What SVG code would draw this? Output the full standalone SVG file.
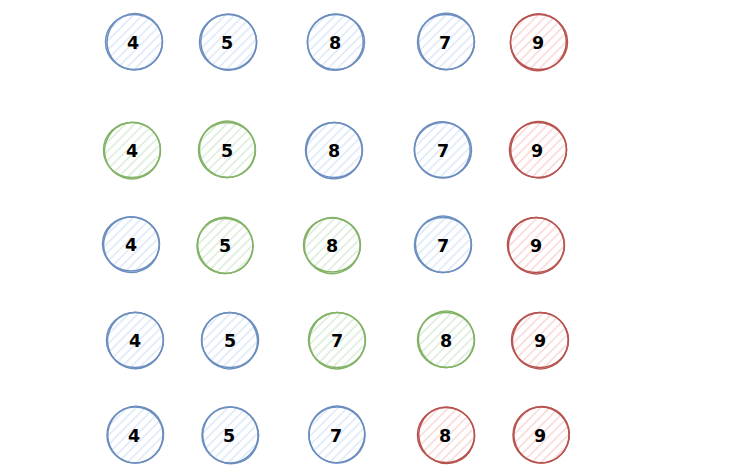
<svg xmlns="http://www.w3.org/2000/svg" width="748" height="476" viewBox="0 0 748 476">
<defs>
<pattern id="hb" patternUnits="userSpaceOnUse" width="6.5" height="6.5" patternTransform="rotate(45)"><line x1="1" y1="0" x2="1" y2="6.5" stroke="#d3e2f7" stroke-width="1.2"/></pattern>
<pattern id="hg" patternUnits="userSpaceOnUse" width="6.5" height="6.5" patternTransform="rotate(45)"><line x1="1" y1="0" x2="1" y2="6.5" stroke="#d0e6cf" stroke-width="1.2"/></pattern>
<pattern id="hr" patternUnits="userSpaceOnUse" width="6.5" height="6.5" patternTransform="rotate(45)"><line x1="1" y1="0" x2="1" y2="6.5" stroke="#f6cdca" stroke-width="1.2"/></pattern>
</defs>
<style>
.b .f{fill:url(#hb)} .g .f{fill:url(#hg)} .r .f{fill:url(#hr)}
.b .s{stroke:#6c8ebf} .g .s{stroke:#82b366} .r .s{stroke:#b85450}
.s{fill:none;stroke-width:1.5}
.t{font-family:"DejaVu Sans",Verdana,sans-serif;font-weight:bold;font-size:17.5px;fill:#000;text-anchor:middle;dominant-baseline:central}
</style>
<g id="connectors"></g>
<g id="r1n1" class="b"><circle class="f" cx="134" cy="42" r="27"/><ellipse class="s" cx="134" cy="42" rx="28.5" ry="27.5"/><ellipse class="s" cx="134.6" cy="41.6" rx="27.6" ry="28.2" transform="rotate(20 134 42)"/><text class="t" x="133" y="43">4</text></g>
<g id="r1n2" class="b"><circle class="f" cx="228" cy="42" r="27"/><ellipse class="s" cx="228" cy="42" rx="28.5" ry="27.5"/><ellipse class="s" cx="228.6" cy="42.4" rx="27.8" ry="28.2" transform="rotate(-25 228 42)"/><text class="t" x="227" y="43">5</text></g>
<g id="r1n3" class="b"><circle class="f" cx="336" cy="42" r="27"/><ellipse class="s" cx="336" cy="42" rx="28.5" ry="27.5"/><ellipse class="s" cx="335.5" cy="42.5" rx="27.8" ry="28.2" transform="rotate(30 336 42)"/><text class="t" x="335" y="43">8</text></g>
<g id="r1n4" class="b"><circle class="f" cx="446" cy="42" r="27"/><ellipse class="s" cx="446" cy="42" rx="28.5" ry="27.5"/><ellipse class="s" cx="446.5" cy="41.5" rx="27.8" ry="28.2" transform="rotate(-15 446 42)"/><text class="t" x="445" y="43">7</text></g>
<g id="r1n5" class="r"><circle class="f" cx="539" cy="42" r="27"/><ellipse class="s" cx="539" cy="42" rx="28.5" ry="27.5"/><ellipse class="s" cx="538.5" cy="42.5" rx="27.8" ry="28.4" transform="rotate(25 539 42)"/><text class="t" x="538" y="43">9</text></g>

<g id="r2n1" class="g"><circle class="f" cx="132" cy="150" r="27"/><ellipse class="s" cx="132" cy="150" rx="28.5" ry="27.5"/><ellipse class="s" cx="132.6" cy="150.4" rx="27.8" ry="28.4" transform="rotate(20 132 150)"/><text class="t" x="132" y="151">4</text></g>
<g id="r2n2" class="g"><circle class="f" cx="227" cy="150" r="27"/><ellipse class="s" cx="227" cy="150" rx="28.5" ry="27.5"/><ellipse class="s" cx="227.5" cy="149.5" rx="27.8" ry="28.2" transform="rotate(-20 227 150)"/><text class="t" x="227" y="151">5</text></g>
<g id="r2n3" class="b"><circle class="f" cx="334" cy="150" r="27"/><ellipse class="s" cx="334" cy="150" rx="28.5" ry="27.5"/><ellipse class="s" cx="334.5" cy="150.5" rx="27.8" ry="28.2" transform="rotate(30 334 150)"/><text class="t" x="334" y="151">8</text></g>
<g id="r2n4" class="b"><circle class="f" cx="443" cy="150" r="27"/><ellipse class="s" cx="443" cy="150" rx="28.5" ry="27.5"/><ellipse class="s" cx="442.4" cy="149.5" rx="27.8" ry="28.2" transform="rotate(-30 443 150)"/><text class="t" x="443" y="151">7</text></g>
<g id="r2n5" class="r"><circle class="f" cx="538" cy="150" r="27"/><ellipse class="s" cx="538" cy="150" rx="28.5" ry="27.5"/><ellipse class="s" cx="538.5" cy="149.5" rx="27.8" ry="28.2" transform="rotate(15 538 150)"/><text class="t" x="537" y="151">9</text></g>

<g id="r3n1" class="b"><circle class="f" cx="131" cy="244" r="27"/><ellipse class="s" cx="131" cy="244" rx="28.5" ry="27"/><ellipse class="s" cx="131.6" cy="244.5" rx="27.8" ry="27.8" transform="rotate(20 131 244)"/><text class="t" x="131" y="245">4</text></g>
<g id="r3n2" class="g"><circle class="f" cx="225" cy="246" r="27"/><ellipse class="s" cx="225" cy="246" rx="28" ry="27.5"/><ellipse class="s" cx="225.5" cy="245.5" rx="27.5" ry="28.2" transform="rotate(-20 225 246)"/><text class="t" x="225" y="246">5</text></g>
<g id="r3n3" class="g"><circle class="f" cx="332" cy="245" r="27"/><ellipse class="s" cx="332" cy="245" rx="28.5" ry="27"/><ellipse class="s" cx="332.5" cy="245.5" rx="27.8" ry="28" transform="rotate(25 332 245)"/><text class="t" x="332" y="246">8</text></g>
<g id="r3n4" class="b"><circle class="f" cx="443" cy="245" r="27"/><ellipse class="s" cx="443" cy="245" rx="28.5" ry="27.5"/><ellipse class="s" cx="443.5" cy="244.5" rx="27.8" ry="28.2" transform="rotate(-20 443 245)"/><text class="t" x="443" y="246">7</text></g>
<g id="r3n5" class="r"><circle class="f" cx="536" cy="245" r="27"/><ellipse class="s" cx="536" cy="245" rx="28.5" ry="27.5"/><ellipse class="s" cx="536.5" cy="245.5" rx="27.8" ry="28.2" transform="rotate(20 536 245)"/><text class="t" x="536" y="246">9</text></g>

<g id="r4n1" class="b"><circle class="f" cx="135" cy="340" r="27"/><ellipse class="s" cx="135" cy="340" rx="28.5" ry="27.5"/><ellipse class="s" cx="135.6" cy="340.4" rx="27.8" ry="28.2" transform="rotate(20 135 340)"/><text class="t" x="135" y="341">4</text></g>
<g id="r4n2" class="b"><circle class="f" cx="230" cy="340" r="27"/><ellipse class="s" cx="230" cy="340" rx="28.5" ry="27.5"/><ellipse class="s" cx="229.5" cy="340.5" rx="27.8" ry="28.2" transform="rotate(-20 230 340)"/><text class="t" x="230" y="341">5</text></g>
<g id="r4n3" class="g"><circle class="f" cx="337" cy="340" r="27"/><ellipse class="s" cx="337" cy="340" rx="28.5" ry="27.5"/><ellipse class="s" cx="337.5" cy="340.5" rx="27.8" ry="28.2" transform="rotate(25 337 340)"/><text class="t" x="337" y="341">7</text></g>
<g id="r4n4" class="g"><circle class="f" cx="446" cy="340" r="27"/><ellipse class="s" cx="446" cy="340" rx="28.5" ry="27.5"/><ellipse class="s" cx="446.5" cy="339.5" rx="27.8" ry="28.2" transform="rotate(-20 446 340)"/><text class="t" x="446" y="341">8</text></g>
<g id="r4n5" class="r"><circle class="f" cx="540" cy="340" r="27"/><ellipse class="s" cx="540" cy="340" rx="28.5" ry="27.5"/><ellipse class="s" cx="540.5" cy="340.5" rx="27.8" ry="28.2" transform="rotate(20 540 340)"/><text class="t" x="540" y="341">9</text></g>

<g id="r5n1" class="b"><circle class="f" cx="135" cy="435" r="27"/><ellipse class="s" cx="135" cy="435" rx="28" ry="28"/><ellipse class="s" cx="135.5" cy="434.5" rx="27.8" ry="28.4" transform="rotate(20 135 435)"/><text class="t" x="134" y="436">4</text></g>
<g id="r5n2" class="b"><circle class="f" cx="230" cy="435" r="27"/><ellipse class="s" cx="230" cy="435" rx="28" ry="28"/><ellipse class="s" cx="230.5" cy="435.5" rx="27.8" ry="28.4" transform="rotate(-20 230 435)"/><text class="t" x="229" y="436">5</text></g>
<g id="r5n3" class="b"><circle class="f" cx="337" cy="435" r="27"/><ellipse class="s" cx="337" cy="435" rx="28" ry="28"/><ellipse class="s" cx="336.5" cy="434.5" rx="27.8" ry="28.4" transform="rotate(25 337 435)"/><text class="t" x="336" y="436">7</text></g>
<g id="r5n4" class="r"><circle class="f" cx="446" cy="435" r="27"/><ellipse class="s" cx="446" cy="435" rx="28.5" ry="27.5"/><ellipse class="s" cx="446.5" cy="435.5" rx="27.8" ry="28.2" transform="rotate(-20 446 435)"/><text class="t" x="445" y="436">8</text></g>
<g id="r5n5" class="r"><circle class="f" cx="541" cy="435" r="27"/><ellipse class="s" cx="541" cy="435" rx="28" ry="28"/><ellipse class="s" cx="541.5" cy="434.5" rx="27.6" ry="28.2" transform="rotate(20 541 435)"/><text class="t" x="540" y="436">9</text></g>
</svg>
